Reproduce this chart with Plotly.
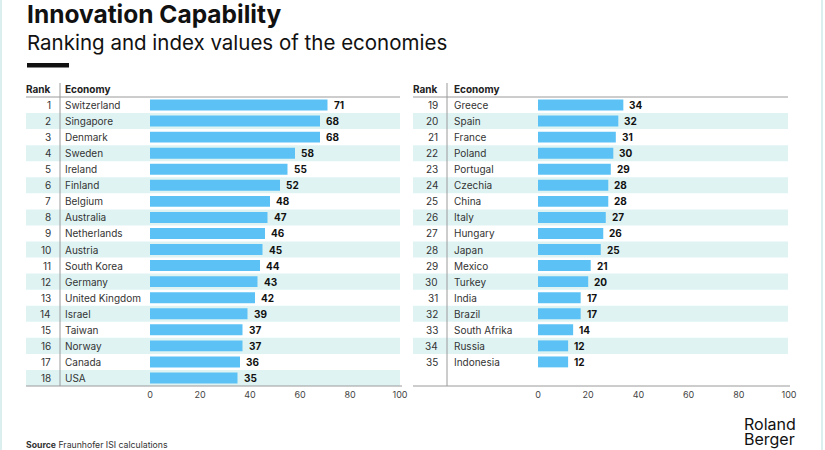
import plotly.graph_objects as go

W, H = 825, 450

ranks_left = list(range(1, 19))
econ_left = ["Switzerland", "Singapore", "Denmark", "Sweden", "Ireland", "Finland",
             "Belgium", "Australia", "Netherlands", "Austria", "South Korea", "Germany",
             "United Kingdom", "Israel", "Taiwan", "Norway", "Canada", "USA"]
vals_left = [71, 68, 68, 58, 55, 52, 48, 47, 46, 45, 44, 43, 42, 39, 37, 37, 36, 35]

ranks_right = list(range(19, 36))
econ_right = ["Greece", "Spain", "France", "Poland", "Portugal", "Czechia", "China",
              "Italy", "Hungary", "Japan", "Mexico", "Turkey", "India", "Brazil",
              "South Afrika", "Russia", "Indonesia"]
vals_right = [34, 32, 31, 30, 29, 28, 28, 27, 26, 25, 21, 20, 17, 17, 14, 12, 12]

tick_vals = [0, 20, 40, 60, 80, 100]

FONT = "Inter"
BAR = "#5CC2F5"
STRIPE = "#DFF3F3"
TXT = "#222222"


def px(x):
    return x / W


def py(y):
    return 1 - y / H


fig = go.Figure()

panels = [
    dict(ranks=ranks_left, econ=econ_left, vals=vals_left, xa="x", ya="y",
         left=26, right=402, sep=60, rank_x=53, econ_x=65),
    dict(ranks=ranks_right, econ=econ_right, vals=vals_right, xa="x2", ya="y2",
         left=413, right=790, sep=447, rank_x=440, econ_x=454),
]

shapes = []
annotations = []
RPAD = 0
EPAD = 2

for p in panels:
    n = len(p["vals"])
    idx = list(range(n))
    fig.add_trace(go.Bar(
        x=p["vals"], y=idx, orientation="h", xaxis=p["xa"], yaxis=p["ya"],
        marker=dict(color=BAR, line=dict(width=0)), width=0.68,
        hoverinfo="skip", showlegend=False,
    ))
    for i in idx:
        if i % 2 == 1:
            shapes.append(dict(type="rect", xref="paper", yref=p["ya"],
                               x0=px(p["left"]), x1=px(p["right"] - 2),
                               y0=i - 0.5, y1=i + 0.5, fillcolor=STRIPE,
                               line=dict(width=0), layer="below"))
    shapes.append(dict(type="line", xref="paper", yref="paper",
                       x0=px(p["left"]), x1=px(p["right"] - 2), y0=py(97), y1=py(97),
                       line=dict(color="#9a9a9a", width=1)))
    shapes.append(dict(type="line", xref="paper", yref="paper",
                       x0=px(p["left"]), x1=px(p["right"]), y0=py(386), y1=py(386),
                       line=dict(color="#9a9a9a", width=1)))
    shapes.append(dict(type="line", xref="paper", yref="paper",
                       x0=px(p["sep"]), x1=px(p["sep"]), y0=py(83), y1=py(386),
                       line=dict(color="#9a9a9a", width=1)))
    annotations.append(dict(xref="paper", yref="paper", x=px(p["rank_x"] + RPAD), y=py(89),
                            text="<b>Rank</b>", showarrow=False, xanchor="right",
                            yanchor="middle", font=dict(size=10, color=TXT, family=FONT)))
    annotations.append(dict(xref="paper", yref="paper", x=px(p["econ_x"] - EPAD), y=py(89),
                            text="<b>Economy</b>", showarrow=False, xanchor="left",
                            yanchor="middle", font=dict(size=10, color=TXT, family=FONT)))
    for i in idx:
        annotations.append(dict(xref="paper", yref=p["ya"], x=px(p["rank_x"] + RPAD), y=i,
                                text=str(p["ranks"][i]), showarrow=False, xanchor="right",
                                yanchor="middle", font=dict(size=10, color="#333", family=FONT)))
        annotations.append(dict(xref="paper", yref=p["ya"], x=px(p["econ_x"] - EPAD), y=i,
                                text=p["econ"][i], showarrow=False, xanchor="left",
                                yanchor="middle", font=dict(size=10, color="#333", family=FONT)))
        annotations.append(dict(xref=p["xa"], yref=p["ya"], x=p["vals"][i], y=i,
                                text="<b>%d</b>" % p["vals"][i], showarrow=False,
                                xanchor="left", yanchor="middle", xshift=4,
                                font=dict(size=10, color="#111", family=FONT)))

shapes.append(dict(type="rect", xref="paper", yref="paper", x0=px(27), x1=px(69),
                   y0=py(67.5), y1=py(63), fillcolor="#111", line=dict(width=0)))
for xx in (1, 822):
    shapes.append(dict(type="line", xref="paper", yref="paper", x0=px(xx), x1=px(xx),
                       y0=0, y1=1, line=dict(color="#cfeaea", width=1.5)))

annotations += [
    dict(xref="paper", yref="paper", x=px(25), y=py(14), text="<b>Innovation Capability</b>",
         showarrow=False, xanchor="left", yanchor="middle",
         font=dict(size=24.5, color="#111", family=FONT)),
    dict(xref="paper", yref="paper", x=px(25), y=py(42),
         text="Ranking and index values of the economies",
         showarrow=False, xanchor="left", yanchor="middle",
         font=dict(size=20.5, color="#111", family=FONT)),
    dict(xref="paper", yref="paper", x=px(24), y=py(445),
         text="<b>Source</b> Fraunhofer ISI calculations",
         showarrow=False, xanchor="left", yanchor="middle",
         font=dict(size=8.7, color="#333", family=FONT)),
    dict(xref="paper", yref="paper", x=px(742), y=py(424),
         text="Roland", showarrow=False, xanchor="left", yanchor="middle",
         font=dict(size=16, color="#111", family=FONT)),
    dict(xref="paper", yref="paper", x=px(742), y=py(439),
         text="Berger", showarrow=False, xanchor="left", yanchor="middle",
         font=dict(size=16, color="#111", family=FONT)),
]

axis_common = dict(range=[0, 100], tickvals=tick_vals, showgrid=False, zeroline=False,
                   showline=False, ticks="", ticklabelstandoff=2,
                   tickfont=dict(size=9, color="#444", family=FONT),
                   fixedrange=True)
yaxis_common = dict(range=[17.5, -0.5], showticklabels=False, showgrid=False,
                    zeroline=False, showline=False, ticks="",
                    domain=[py(386), py(97)], fixedrange=True)

fig.update_layout(
    width=W, height=H, autosize=False, margin=dict(l=0, r=0, t=0, b=0, autoexpand=False),
    paper_bgcolor="white", plot_bgcolor="rgba(0,0,0,0)",
    xaxis=dict(domain=[px(150), px(400)], anchor="y", **axis_common),
    xaxis2=dict(domain=[px(538), px(789)], anchor="y2", **axis_common),
    yaxis=dict(anchor="x", **yaxis_common),
    yaxis2=dict(anchor="x2", **yaxis_common),
    shapes=shapes, annotations=annotations, bargap=0.3,
    font=dict(family=FONT),
)

fig.write_html("out.html", config={"displayModeBar": False, "responsive": False},
               post_script="document.body.style.margin='0';document.body.style.overflow='hidden';")
